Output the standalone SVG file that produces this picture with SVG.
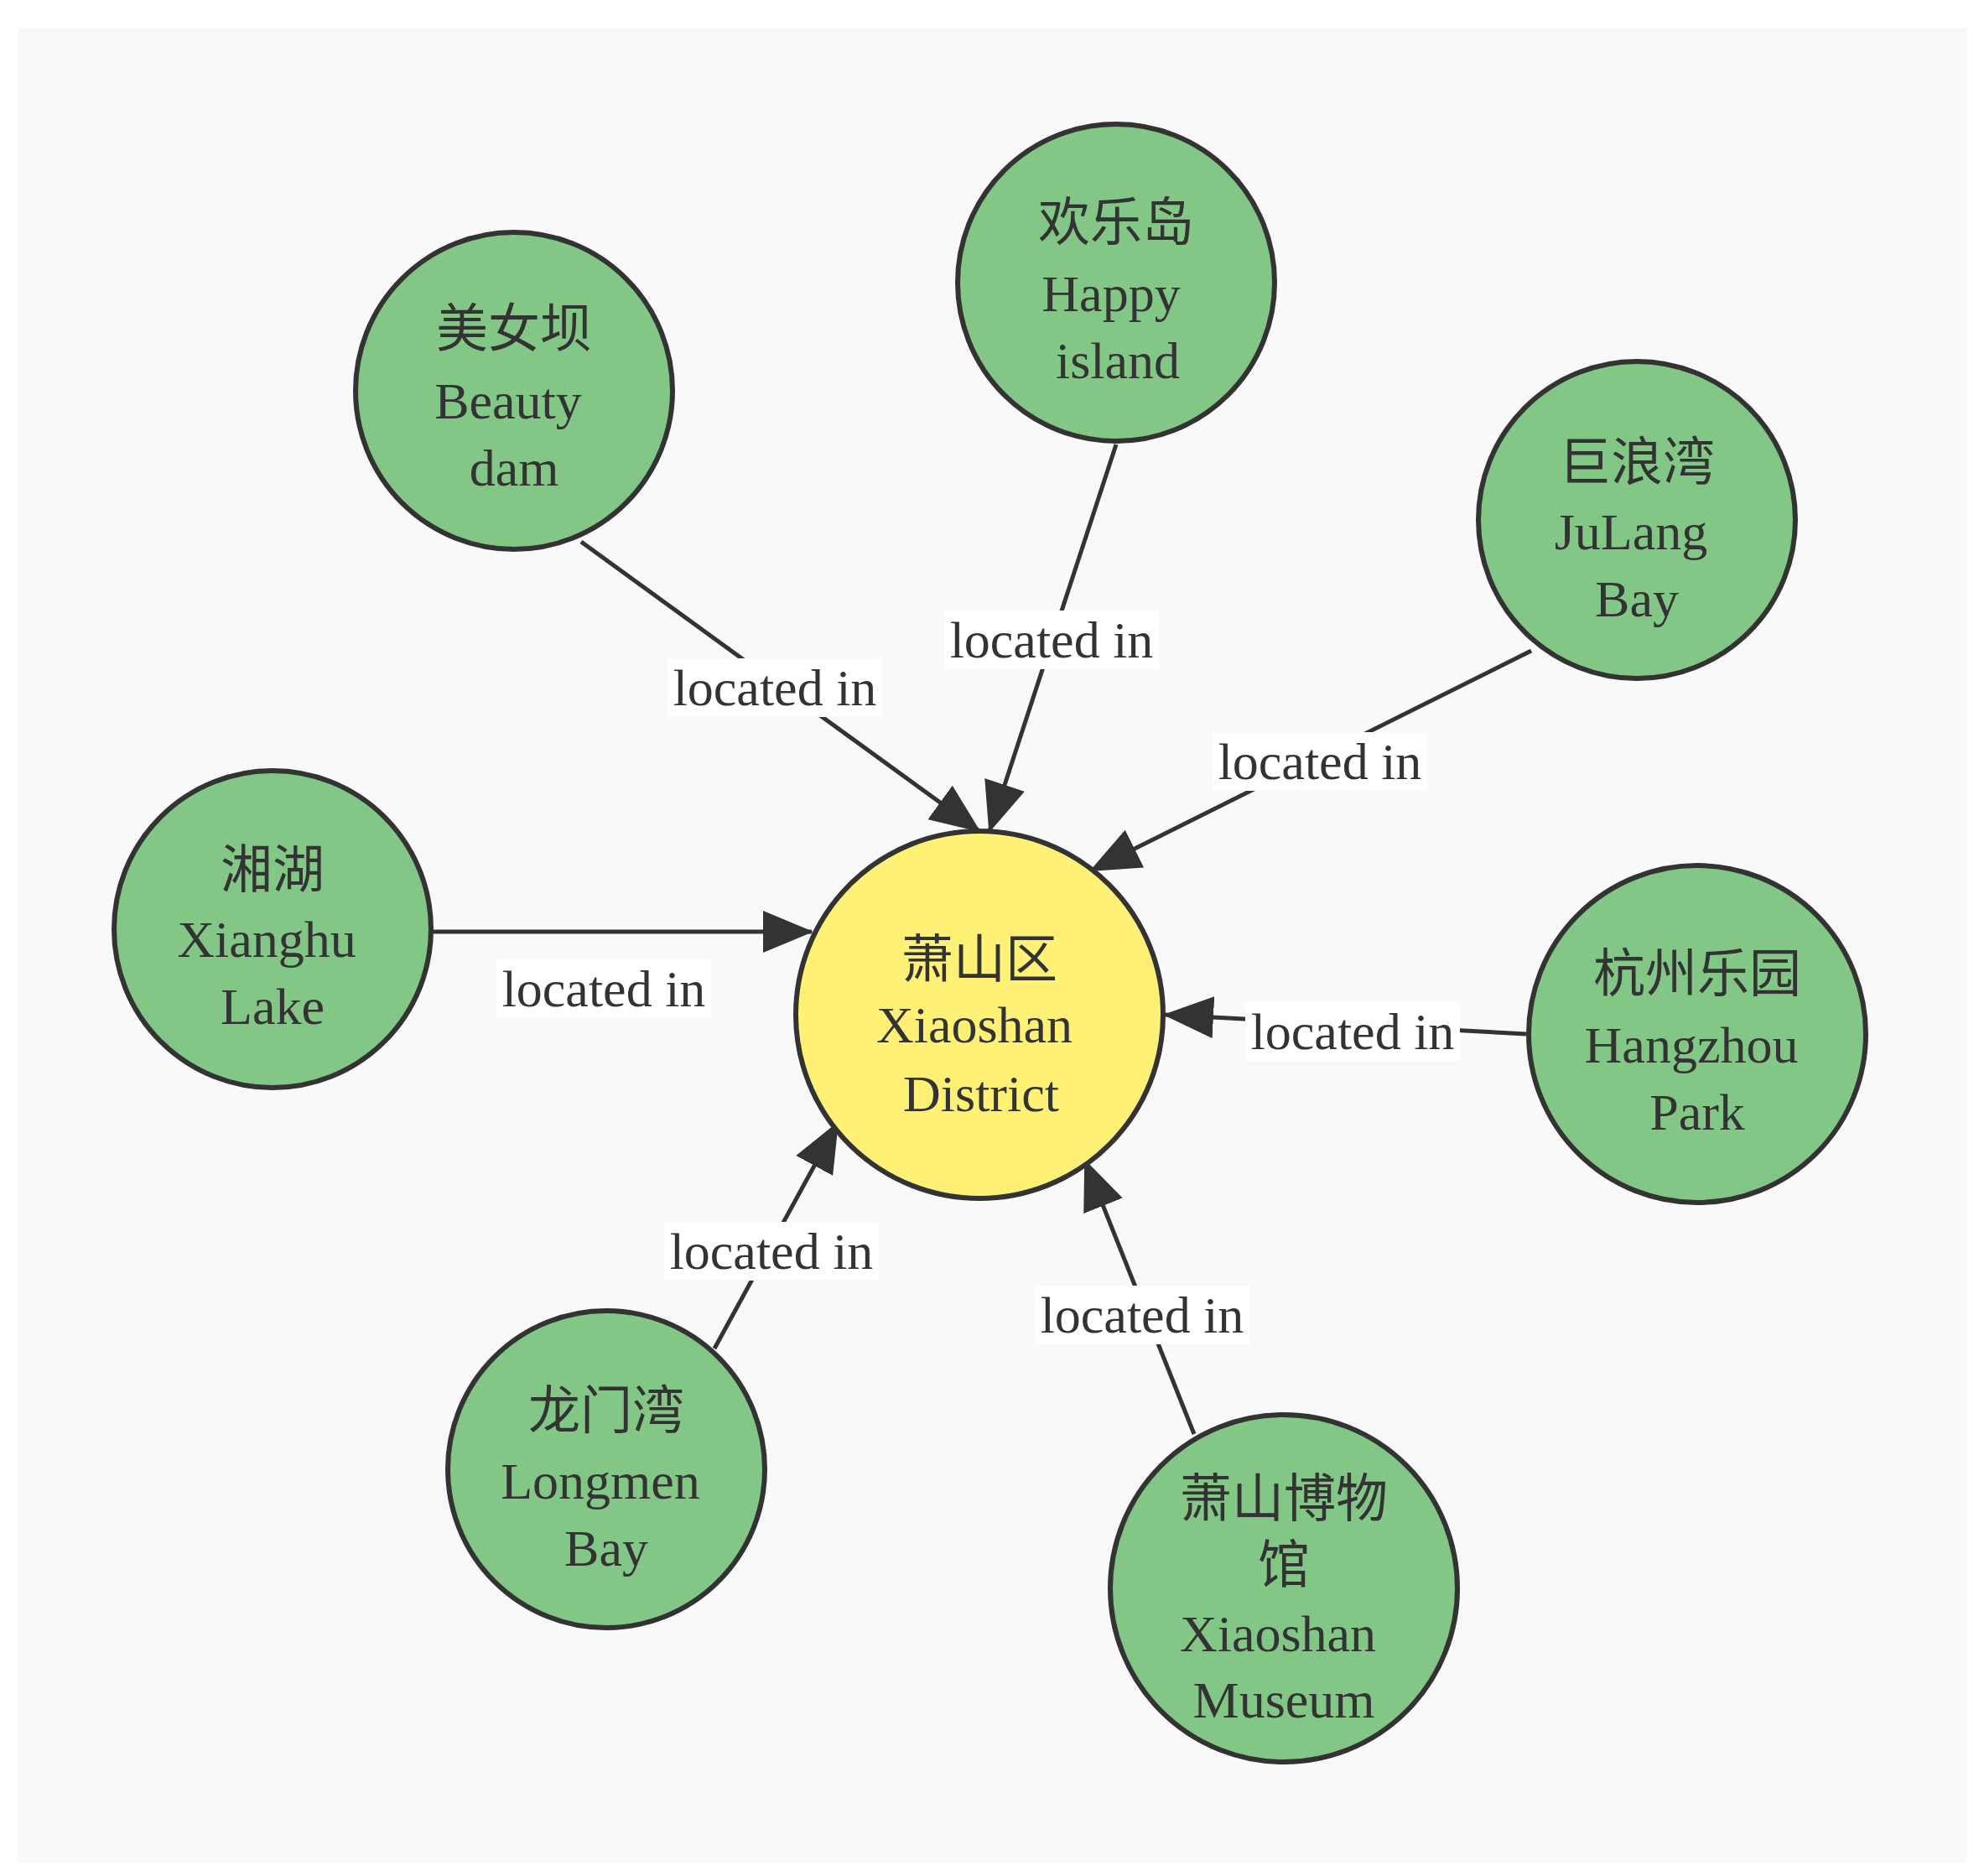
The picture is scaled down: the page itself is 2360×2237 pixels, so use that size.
<svg xmlns="http://www.w3.org/2000/svg" width="2360" height="2237" viewBox="0 0 2360 2237">
<defs>
<style>
.n{fill:#82c785;stroke:#333;stroke-width:6}
.c{fill:#fff176;stroke:#333;stroke-width:6}
.t{font-family:"Liberation Serif","Noto Sans CJK SC",serif;font-size:62px;fill:#333;text-anchor:middle;dominant-baseline:central}
.e{stroke:#333;stroke-width:5;fill:none;marker-end:url(#a)}
.lb{fill:#fff}
</style>
<marker id="a" markerUnits="userSpaceOnUse" markerWidth="60" markerHeight="50" refX="58" refY="25" orient="auto"><path d="M0,0 L60,25 L0,50 Z" fill="#333"/></marker>
</defs>
<rect x="21" y="33" width="2324" height="2188" fill="#f9f9f9"/>
<g id="edges">
<line class="e" x1="693" y1="646" x2="1168" y2="991"/>
<line class="e" x1="1331" y1="530" x2="1180" y2="991"/>
<line class="e" x1="1826" y1="776" x2="1301" y2="1038"/>
<line class="e" x1="516" y1="1111" x2="968" y2="1111"/>
<line class="e" x1="1820" y1="1233" x2="1389" y2="1210"/>
<line class="e" x1="852" y1="1608" x2="999" y2="1339"/>
<line class="e" x1="1424" y1="1710" x2="1294" y2="1384"/>
<rect class="lb" x="796" y="785" width="256" height="70"/><text class="t" x="924" y="820">located in</text>
<rect class="lb" x="1126" y="728" width="256" height="70"/><text class="t" x="1254" y="763">located in</text>
<rect class="lb" x="1446" y="873" width="256" height="70"/><text class="t" x="1574" y="908">located in</text>
<rect class="lb" x="592" y="1144" width="256" height="70"/><text class="t" x="720" y="1179">located in</text>
<rect class="lb" x="1485" y="1195" width="256" height="70"/><text class="t" x="1613" y="1230">located in</text>
<rect class="lb" x="792" y="1457" width="256" height="70"/><text class="t" x="920" y="1492">located in</text>
<rect class="lb" x="1234" y="1533" width="256" height="70"/><text class="t" x="1362" y="1568">located in</text>
</g>
<g id="center"><circle class="c" cx="1168" cy="1210" r="219"/><text class="t" x="1168" y="1145">萧山区</text><text class="t" x="1162" y="1222">Xiaoshan</text><text class="t" x="1170" y="1304">District</text></g>
<g id="beauty"><circle class="n" cx="613" cy="466" r="189"/><text class="t" x="613" y="393">美女坝</text><text class="t" x="606" y="478">Beauty</text><text class="t" x="613" y="558">dam</text></g>
<g id="happy"><circle class="n" cx="1331" cy="337" r="189"/><text class="t" x="1331" y="266">欢乐岛</text><text class="t" x="1325" y="350">Happy</text><text class="t" x="1333" y="430">island</text></g>
<g id="julang"><circle class="n" cx="1952" cy="620" r="189"/><text class="t" x="1952" y="552">巨浪湾</text><text class="t" x="1945" y="634">JuLang</text><text class="t" x="1952" y="714">Bay</text></g>
<g id="xianghu"><circle class="n" cx="325" cy="1108" r="189"/><text class="t" x="325" y="1038">湘湖</text><text class="t" x="318" y="1120">Xianghu</text><text class="t" x="325" y="1200">Lake</text></g>
<g id="hangzhou"><circle class="n" cx="2024" cy="1233" r="201"/><text class="t" x="2024" y="1162">杭州乐园</text><text class="t" x="2017" y="1246">Hangzhou</text><text class="t" x="2024" y="1326">Park</text></g>
<g id="longmen"><circle class="n" cx="723" cy="1752" r="189"/><text class="t" x="723" y="1683">龙门湾</text><text class="t" x="716" y="1766">Longmen</text><text class="t" x="723" y="1846">Bay</text></g>
<g id="museum"><circle class="n" cx="1531" cy="1894" r="207"/><text class="t" x="1531" y="1788">萧山博物</text><text class="t" x="1531" y="1867">馆</text><text class="t" x="1524" y="1948">Xiaoshan</text><text class="t" x="1531" y="2027">Museum</text></g>
</svg>
